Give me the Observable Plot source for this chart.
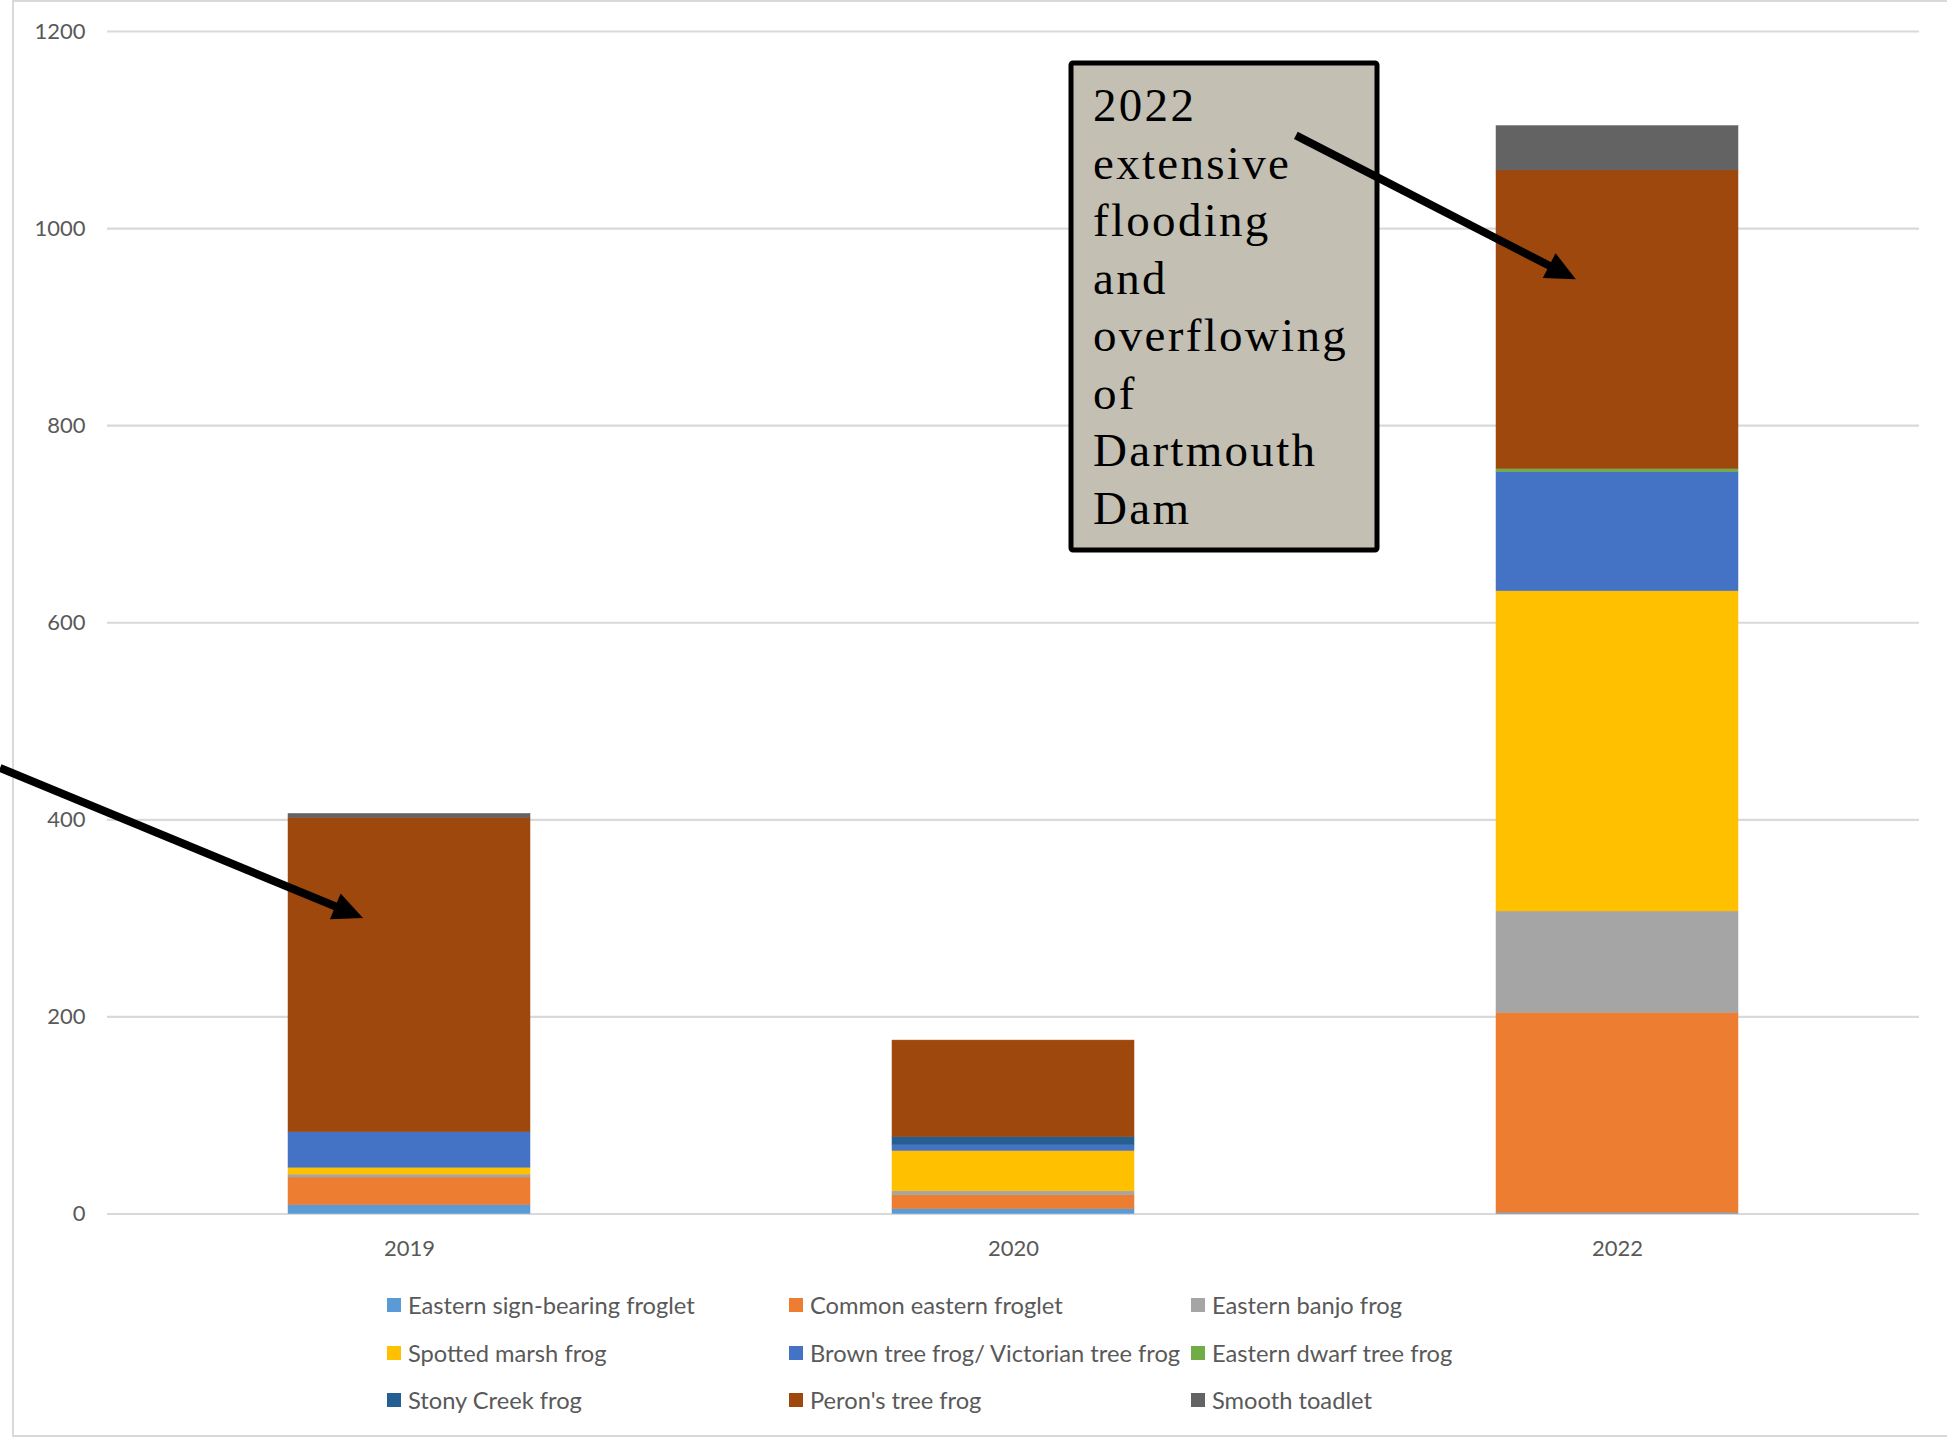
<!DOCTYPE html>
<html>
<head>
<meta charset="utf-8">
<script src="https://cdn.jsdelivr.net/npm/d3@7"></script>
<script src="https://cdn.jsdelivr.net/npm/@observablehq/plot@0.6"></script>
<style>
  html, body { margin: 0; padding: 0; background: #ffffff; overflow: hidden; }
  body { width: 1947px; height: 1440px; position: relative; font-family: Lato, "Open Sans", sans-serif; }
  #frame { position: absolute; left: 12px; top: 0px; width: 1960px; height: 1437px;
           border-left: 2.5px solid #d9d9d9; border-top: 2px solid #d9d9d9; border-bottom: 2.5px solid #d9d9d9; box-sizing: border-box; }
  #chart { position: absolute; left: 0; top: 0; }
  #legend { position: absolute; left: 387px; top: 1281px; display: grid;
            grid-template-columns: 402px 402px 402px; grid-auto-rows: 47.75px; }
  .item { display: flex; align-items: center; white-space: nowrap; color: #595959; font-size: 23.7px; font-family: Lato, sans-serif; }
  .sw { width: 14px; height: 14px; margin-right: 7px; flex: none; }
</style>
</head>
<body>
<div id="frame"></div>
<div id="chart"></div>
<div id="legend"></div>
<script>
// ---- data ----
const years = ["2019", "2020", "2022"];
const species = [
  "Eastern sign-bearing froglet",
  "Common eastern froglet",
  "Eastern banjo frog",
  "Spotted marsh frog",
  "Brown tree frog/ Victorian tree frog",
  "Eastern dwarf tree frog",
  "Stony Creek frog",
  "Peron's tree frog",
  "Smooth toadlet"
];
const colors = ["#5B9BD5", "#ED7D31", "#A5A5A5", "#FFC000", "#4472C4", "#70AD47", "#255E91", "#9E480E", "#636363"];
// counts per species, in year order (2019, 2020, 2022)
const signBearing  = [9, 5, 1];
const commonEastern = [28, 14, 203];
const banjo        = [3, 4, 103];
const spottedMarsh = [7, 41, 325];
const brownTree    = [36, 6, 121];
const dwarfTree    = [0, 0, 3];
const stonyCreek   = [0, 8, 0];
const peronsTree   = [319, 98, 303];
const smoothToadlet = [4, 0, 45];
const yTicks = [0, 200, 400, 600, 800, 1000, 1200];
const annotationLines = ["2022", "extensive", "flooding", "and", "overflowing", "of", "Dartmouth", "Dam"];

const seriesValues = [signBearing, commonEastern, banjo, spottedMarsh, brownTree, dwarfTree, stonyCreek, peronsTree, smoothToadlet];
const rows = [];
years.forEach((yr, i) => {
  species.forEach((sp, j) => rows.push({year: yr, species: sp, count: seriesValues[j][i]}));
});

const chart = Plot.plot({
  width: 1947,
  height: 1268,
  marginLeft: 107,
  marginRight: 28,
  marginTop: 31,
  marginBottom: 54.5,
  style: {background: "transparent", fontFamily: "Lato, sans-serif", fontSize: "22px", color: "#595959", overflow: "visible"},
  x: {domain: years, paddingInner: 0.6, paddingOuter: 0.3, align: 0.5, label: null},
  y: {domain: [0, 1200], label: null},
  color: {domain: species, range: colors},
  marks: [
    Plot.ruleY(yTicks, {stroke: "#d9d9d9", strokeWidth: 2.2}),
    Plot.barY(rows, {x: "year", y: "count", fill: "species", stroke: "species", strokeWidth: 0.5, inset: 0}),
    Plot.axisY({ticks: yTicks, tickFormat: d => String(d), tickSize: 0, tickPadding: 22, label: null, fontSize: 22, fill: "#595959"}),
    Plot.axisX({tickSize: 0, tickPadding: 26, label: null, fontSize: 22, fill: "#595959"})
  ]
});
document.getElementById("chart").appendChild(chart);

// ---- annotation (box + arrows) anchored to the chart's scales ----
const xs = chart.scale("x"), ys = chart.scale("y");
const svg = d3.select(chart);
const g = svg.append("g").attr("text-anchor", "start");

function arrow(x1, y1, x2, y2) {
  const ang = Math.atan2(y2 - y1, x2 - x1);
  const L = 30, W = 14;
  const bx = x2 - L * Math.cos(ang), by = y2 - L * Math.sin(ang);
  g.append("line").attr("x1", x1).attr("y1", y1).attr("x2", bx + 3 * Math.cos(ang)).attr("y2", by + 3 * Math.sin(ang))
    .attr("stroke", "#000").attr("stroke-width", 8);
  const px = -Math.sin(ang), py = Math.cos(ang);
  g.append("polygon")
    .attr("points", [[x2, y2], [bx + W * px, by + W * py], [bx - W * px, by - W * py]].map(p => p.join(",")).join(" "))
    .attr("fill", "#000");
}

// 2019 arrow (from the left edge into the Peron's tree frog segment)
const tip19x = xs.apply("2019") + 0.31 * xs.bandwidth, tip19y = ys.apply(300);
arrow(0, tip19y - 150, tip19x, tip19y);

// 2022 annotation box
const bx0 = xs.apply("2022") - 425, by0 = ys.apply(1167.5);
const bw = 306, bh = 487;
g.append("rect").attr("x", bx0).attr("y", by0).attr("width", bw).attr("height", bh)
  .attr("fill", "#c3bfb3").attr("stroke", "#000").attr("stroke-width", 5).attr("rx", 2);
const t = g.append("text").attr("font-family", "'Liberation Serif', 'Times New Roman', serif")
  .attr("text-anchor", "start")
  .attr("font-size", 47).attr("fill", "#000").attr("letter-spacing", "2.3px");
annotationLines.forEach((ln, i) => {
  t.append("tspan").attr("x", bx0 + 22).attr("y", by0 + 58 + i * 57.5).text(ln);
});

// 2022 arrow
const tip22x = xs.apply("2022") + 0.33 * xs.bandwidth, tip22y = ys.apply(948);
arrow(tip22x - 280, tip22y - 144, tip22x, tip22y);

// ---- legend ----
const legend = document.getElementById("legend");
species.forEach((sp, i) => {
  const it = document.createElement("div");
  it.className = "item";
  const sw = document.createElement("span");
  sw.className = "sw";
  sw.style.background = colors[i];
  const tx = document.createElement("span");
  tx.textContent = sp;
  it.appendChild(sw);
  it.appendChild(tx);
  legend.appendChild(it);
});
</script>
</body>
</html>
